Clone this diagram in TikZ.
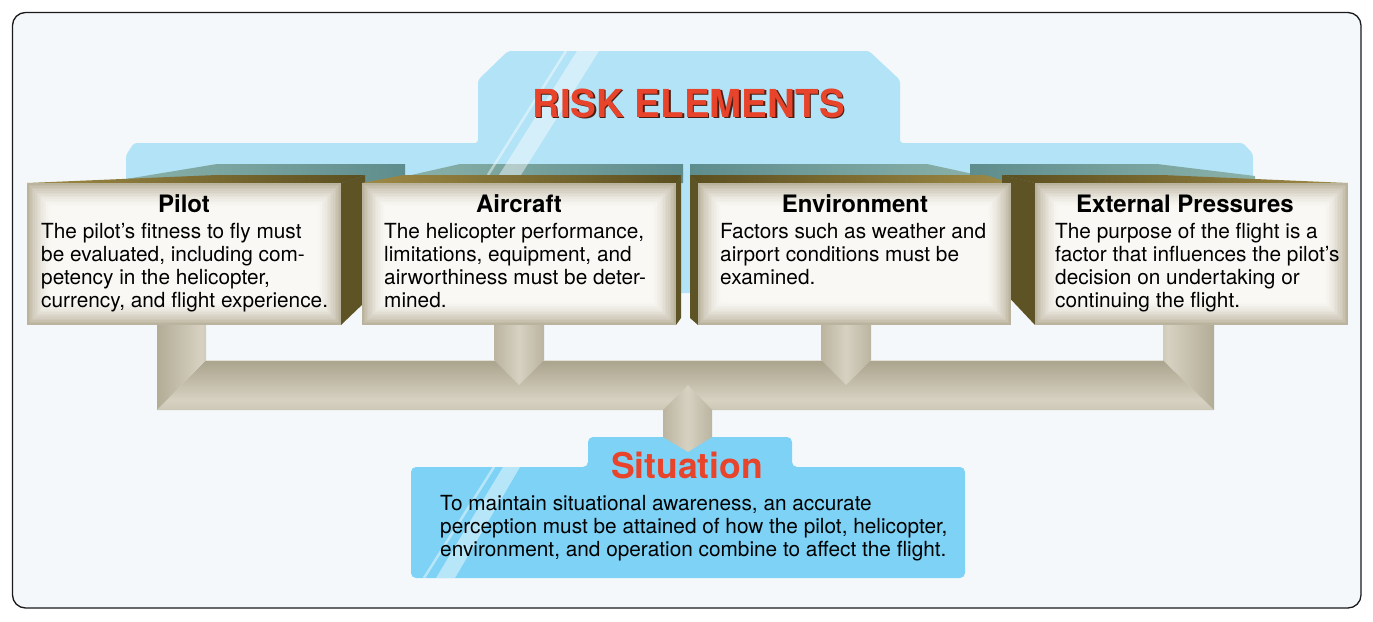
\documentclass[tikz,border=0pt]{standalone}
\usepackage{fontspec}
\setmainfont{TeX Gyre Heros}
\definecolor{framebg}{HTML}{F4F8FB}
\definecolor{framecol}{HTML}{1A1A1A}
\definecolor{hdrblue}{HTML}{B3E3F6}
\definecolor{sitblue}{HTML}{7DD2F5}
\definecolor{riskred}{HTML}{E8432B}
\definecolor{redshadow}{HTML}{4A2015}
\definecolor{tealL}{HTML}{8BB2AA}
\definecolor{tealD}{HTML}{5E8D8D}
\definecolor{oliveD}{HTML}{5B4F20}
\definecolor{oliveL}{HTML}{9E8A46}
\definecolor{oliveS}{HTML}{5E5324}
\definecolor{faceout}{HTML}{BAB39D}
\definecolor{facein}{HTML}{F9F8F4}
\definecolor{pipeD}{HTML}{9F977F}
\definecolor{pipeL}{HTML}{D6D1C1}
\definecolor{pipeM}{HTML}{B4AD98}
\pgfdeclarehorizontalshading{stemLR}{100bp}{color(0bp)=(pipeD); color(70bp)=(pipeL); color(100bp)=(pipeM)}
\pgfdeclarehorizontalshading{stemRL}{100bp}{color(0bp)=(pipeM); color(30bp)=(pipeL); color(100bp)=(pipeD)}
\pgfdeclarehorizontalshading{stemMid}{100bp}{color(0bp)=(pipeD); color(50bp)=(pipeL); color(100bp)=(pipeD)}
\pgfdeclareverticalshading{barshade}{100bp}{color(0bp)=(pipeM); color(35bp)=(pipeL); color(85bp)=(pipeD); color(100bp)=(pipeM)}
\newcommand\rkface[4]{%
  \foreach \i in {0,...,15}{%
    \pgfmathtruncatemacro\p{100*(1-(1-\i/15)^1.6)}%
    \pgfmathsetmacro\d{\i*1.6}%
    \fill[facein!\p!faceout] (#1+\d,#2+\d) rectangle (#3-\d,#4-\d);
  }}
\begin{document}
\begin{tikzpicture}[x=1pt,y=-1pt,
  boxtitle/.style={font=\fontsize{24}{28}\selectfont\bfseries, inner sep=0pt, anchor=base},
  bodytxt/.style={font=\fontsize{20.8}{23}\selectfont, inner sep=0pt, anchor=north west, align=left},
  bigred/.style={font=\fontsize{38.5}{44}\selectfont\bfseries, inner sep=0pt, anchor=base},
  sittitle/.style={font=\fontsize{35.5}{40}\selectfont\bfseries, inner sep=0pt, anchor=base, text=riskred},
  stripe/.style={white, opacity=0.45},
  sideface/.style={fill=oliveS}]
\useasboundingbox (0,0) rectangle (1373,621);
\fill[white] (0,0) rectangle (1373,621);
\draw[framecol, line width=1.3pt, rounded corners=13pt, fill=framebg] (12.5,12.5) rectangle (1361,608);

% header blue shape
\fill[hdrblue, rounded corners=3pt] (126,293) -- (126,155) -- (134,143) -- (478,143) -- (478,80) -- (508,51) -- (869,51) -- (900,80) -- (900,143) -- (1243,143) -- (1253,154) -- (1253,293) -- cycle;

% teal back planes
\shade[left color=tealL, right color=tealD] (120,180) -- (217,164) -- (405,164) -- (405,183) -- (120,183) -- cycle;
\shade[left color=tealL, right color=tealD] (398,178) -- (460,164) -- (683,164) -- (683,183) -- (398,183) -- cycle;
\shade[left color=tealD, right color=tealL] (690,164) -- (927,164) -- (987,177) -- (987,183) -- (690,183) -- cycle;
\shade[left color=tealD, right color=tealL] (970,164) -- (1157,164) -- (1255,176) -- (1255,183) -- (970,183) -- cycle;

% header stripes
\fill[stripe] (577,51) -- (599,51) -- (521,175) -- (499,175) -- cycle;
\draw[stripe, line width=2.5pt] (566,51) -- (488,175);

% red title
\node[bigred, text=redshadow] (riskshadow) at (690,118.5) {RISK ELEMENTS};
\node[bigred, text=riskred] (risktitle) at (688.5,117) {RISK ELEMENTS};

% pipes
\shade[shading=barshade] (157,410) -- (206,360) -- (1163,360) -- (1214,410) -- cycle;
\draw[pipeL!70!white, line width=0.8pt] (206,360.4) -- (1163,360.4);
\shade[shading=stemLR] (157,325) -- (206,325) -- (206,360) -- (157,410) -- cycle;
\shade[shading=stemRL] (1163,325) -- (1214,325) -- (1214,410) -- (1163,360) -- cycle;
\shade[shading=stemMid] (494,325) -- (544,325) -- (544,360) -- (519,385) -- (494,360) -- cycle;
\shade[shading=stemMid] (821,325) -- (871,325) -- (871,360) -- (846,385) -- (821,360) -- cycle;

% situation box
\fill[sitblue, rounded corners=5pt] (411,578) -- (411,467) -- (588,467) -- (588,437) -- (792,437) -- (792,467) -- (965,467) -- (965,578) -- cycle;
\fill[stripe] (503,467) -- (520,467) -- (455,578) -- (436,578) -- cycle;
\draw[stripe, line width=2.5pt] (494,467) -- (424,578);
\shade[shading=stemMid] (663,410) -- (688,385) -- (712,410) -- (712,437) -- (688,452) -- (663,437) -- cycle;
\node[sittitle] (sittitle) at (687,478) {Situation};
\node[bodytxt] (sitbody) at (440,495) {To maintain situational awareness, an accurate\\perception must be attained of how the pilot, helicopter,\\environment, and operation combine to affect the flight.};

% olive tops and sides
\shade[left color=oliveL, right color=oliveD] (27,183) -- (217,175) -- (365,175) -- (341,183) -- cycle;
\fill[sideface] (341,183) -- (365,175) -- (365,302) -- (341,325) -- cycle;
\shade[left color=oliveL, right color=oliveD] (362,183) -- (404,175) -- (681,175) -- (676,183) -- cycle;
\fill[sideface] (676,183) -- (681,175) -- (681,318) -- (676,325) -- cycle;
\shade[left color=oliveD, right color=oliveL] (690,175) -- (985,175) -- (1011,183) -- (698,183) -- cycle;
\fill[sideface] (690,175) -- (698,183) -- (698,325) -- (690,318) -- cycle;
\shade[left color=oliveD, right color=oliveL] (1002,175) -- (1162,175) -- (1348,183) -- (1035,183) -- cycle;
\fill[sideface] (1002,175) -- (1035,183) -- (1035,325) -- (1002,290) -- cycle;

% front faces
\rkface{27}{183}{341}{325}
\rkface{362}{183}{676}{325}
\rkface{698}{183}{1011}{325}
\rkface{1035}{183}{1348}{325}

% texts
\node[boxtitle] (pilottitle) at (184,212) {Pilot};
\node[bodytxt] (pilotbody) at (41,223) {The pilot’s fitness to fly must\\be evaluated, including com-\\petency in the helicopter,\\currency, and flight experience.};
\node[boxtitle] (aircrafttitle) at (519,212) {Aircraft};
\node[bodytxt] (aircraftbody) at (384,223) {The helicopter performance,\\limitations, equipment, and\\airworthiness must be deter-\\mined.};
\node[boxtitle] (envtitle) at (855,212) {Environment};
\node[bodytxt] (envbody) at (720,223) {Factors such as weather and\\airport conditions must be\\examined.};
\node[boxtitle] (exttitle) at (1185,212) {External Pressures};
\node[bodytxt] (extbody) at (1055,223) {The purpose of the flight is a\\factor that influences the pilot’s\\decision on undertaking or\\continuing the flight.};
\end{tikzpicture}
\end{document}
